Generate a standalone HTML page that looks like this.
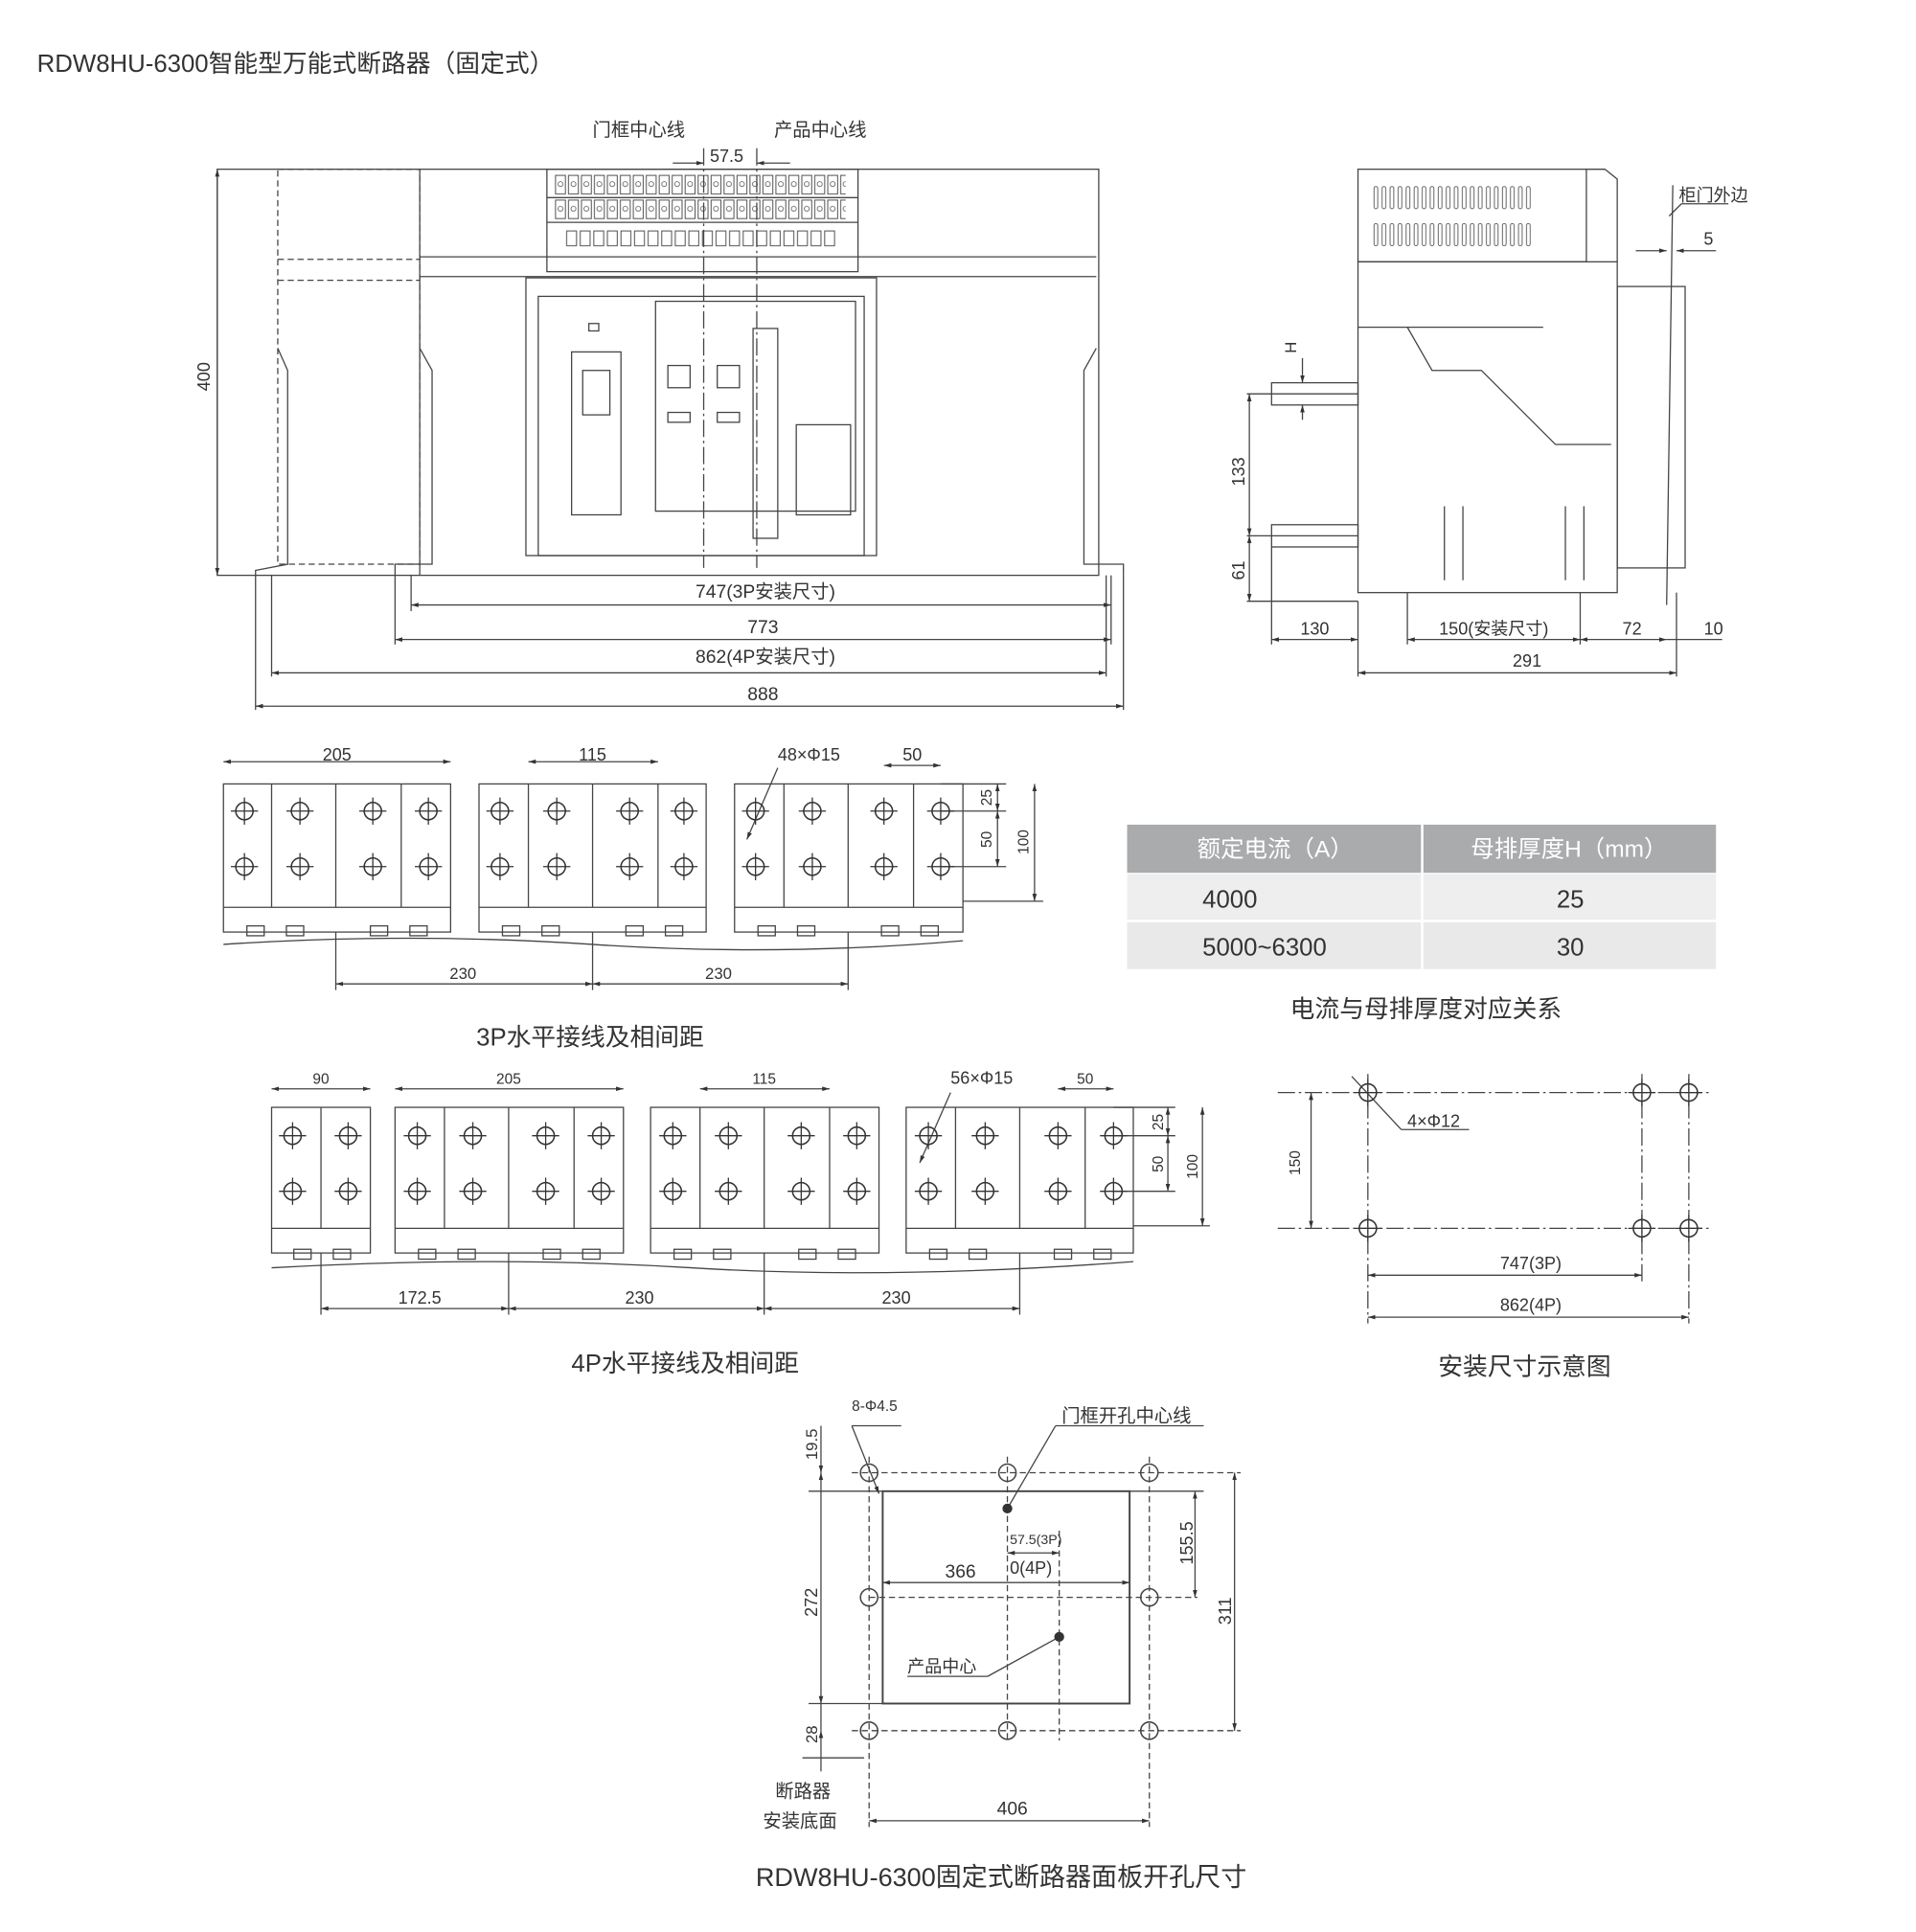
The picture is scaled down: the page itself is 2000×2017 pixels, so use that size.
<!DOCTYPE html>
<html><head><meta charset="utf-8">
<style>
html,body{margin:0;padding:0;background:#fff;}
svg{display:block;}
text{font-family:"Liberation Sans","Noto Sans CJK SC",sans-serif;fill:#333;}
</style></head><body>
<svg width="2000" height="2017" viewBox="0 0 1552 1565" xmlns="http://www.w3.org/2000/svg">
<defs>
<g id="h"><circle r="7" fill="none" stroke="#333" stroke-width="1.2"/><line x1="-11" y1="0" x2="11" y2="0" stroke="#333" stroke-width="1"/><line x1="0" y1="-11" x2="0" y2="11" stroke="#333" stroke-width="1"/></g>
<marker id="a" viewBox="0 0 10 10" refX="10" refY="5" markerWidth="6" markerHeight="6" orient="auto-start-reverse"><path d="M0,2 L10,5 L0,8z" fill="#333"/></marker>
<pattern id="term" x="449" y="140" width="10.5" height="20" patternUnits="userSpaceOnUse"><rect x="1" y="2" width="8" height="15" fill="none" stroke="#555" stroke-width="0.8"/><circle cx="5" cy="9" r="2" fill="none" stroke="#555" stroke-width="0.6"/></pattern>
<pattern id="sq" x="458" y="186" width="11" height="20" patternUnits="userSpaceOnUse"><rect x="1" y="1" width="8" height="12" fill="none" stroke="#555" stroke-width="0.8"/></pattern>
<pattern id="vent" x="1112" y="150" width="6.5" height="30" patternUnits="userSpaceOnUse"><rect x="1" y="1" width="3" height="18" rx="1.5" fill="none" stroke="#555" stroke-width="0.7"/></pattern>
</defs>
<g stroke="#444" stroke-width="1" fill="none">
<!-- front view -->
<rect x="176" y="137" width="714" height="329"/>
<line x1="340" y1="137" x2="340" y2="466"/>
<rect x="225" y="137" width="115" height="320" stroke-dasharray="5,3"/>
<line x1="225" y1="210" x2="340" y2="210" stroke-dasharray="5,3"/>
<line x1="225" y1="227" x2="340" y2="227" stroke-dasharray="5,3"/>
<rect x="443" y="137" width="252" height="83"/>
<rect x="449" y="140" width="236" height="40" fill="url(#term)" stroke="none"/>
<rect x="458" y="186" width="220" height="20" fill="url(#sq)" stroke="none"/>
<line x1="443" y1="160" x2="695" y2="160"/><line x1="443" y1="180" x2="695" y2="180"/>
<line x1="340" y1="208" x2="888" y2="208"/><line x1="340" y1="224" x2="888" y2="224"/>
<rect x="426" y="225" width="284" height="225"/>
<rect x="436" y="240" width="264" height="210"/>
<rect x="463" y="285" width="40" height="132"/><rect x="472" y="300" width="22" height="36"/>
<rect x="531" y="244" width="162" height="170"/>
<rect x="541" y="296" width="18" height="18"/><rect x="581" y="296" width="18" height="18"/>
<rect x="541" y="334" width="18" height="8"/><rect x="581" y="334" width="18" height="8"/>
<rect x="645" y="344" width="44" height="73"/>
<rect x="610" y="266" width="20" height="170"/>
<rect x="477" y="262" width="8" height="6"/>
<line x1="570" y1="120" x2="570" y2="460" stroke-dasharray="14,3,2,3"/>
<line x1="613" y1="120" x2="613" y2="460" stroke-dasharray="14,3,2,3"/>
<path d="M340 282 L350 300 L350 457 L320 457 L320 466"/>
<path d="M888 282 L878 300 L878 457 L910 457 L910 466"/>
<path d="M225 282 L233 300 L233 457 L207 462 L207 575"/>
<line x1="220" y1="466" x2="220" y2="548"/>
<line x1="333" y1="466" x2="333" y2="495"/><line x1="320" y1="466" x2="320" y2="522"/>
<line x1="900" y1="466" x2="900" y2="522"/><line x1="896" y1="466" x2="896" y2="548"/>
<line x1="910" y1="466" x2="910" y2="575"/>
<line x1="333" y1="490" x2="900" y2="490" marker-start="url(#a)" marker-end="url(#a)"/>
<line x1="320" y1="518" x2="900" y2="518" marker-start="url(#a)" marker-end="url(#a)"/>
<line x1="220" y1="545" x2="896" y2="545" marker-start="url(#a)" marker-end="url(#a)"/>
<line x1="207" y1="572" x2="910" y2="572" marker-start="url(#a)" marker-end="url(#a)"/>
<line x1="176" y1="137" x2="176" y2="466" marker-start="url(#a)" marker-end="url(#a)"/>
<line x1="545" y1="132" x2="570" y2="132" marker-end="url(#a)"/><line x1="640" y1="132" x2="613" y2="132" marker-end="url(#a)"/>
<!-- side view -->
<rect x="1100" y="137" width="185" height="75"/>
<rect x="1112" y="150" width="128" height="50" fill="url(#vent)" stroke="none"/>
<path d="M1285 137 L1300 137 L1310 145 L1310 212"/>
<rect x="1100" y="212" width="210" height="268"/>
<rect x="1310" y="232" width="55" height="228"/>
<line x1="1355" y1="150" x2="1350" y2="490"/>
<line x1="1100" y1="265" x2="1250" y2="265"/>
<path d="M1140 265 L1160 300 L1200 300 L1260 360 L1305 360"/>
<path d="M1170 410 L1170 470 M1185 410 L1185 470 M1268 410 L1268 470 M1283 410 L1283 470"/>
<rect x="1030" y="310" width="70" height="18"/><rect x="1030" y="425" width="70" height="18"/>
<line x1="1010" y1="319" x2="1100" y2="319"/><line x1="1010" y1="434" x2="1100" y2="434"/>
<line x1="1010" y1="487" x2="1100" y2="487"/>
<line x1="1012" y1="319" x2="1012" y2="434" marker-start="url(#a)" marker-end="url(#a)"/>
<line x1="1012" y1="434" x2="1012" y2="487" marker-start="url(#a)" marker-end="url(#a)"/>
<line x1="1030" y1="443" x2="1030" y2="522"/><line x1="1100" y1="487" x2="1100" y2="548"/>
<line x1="1140" y1="480" x2="1140" y2="522"/><line x1="1280" y1="480" x2="1280" y2="522"/>
<line x1="1358" y1="480" x2="1358" y2="548"/>
<line x1="1030" y1="518" x2="1100" y2="518" marker-start="url(#a)" marker-end="url(#a)"/>
<line x1="1140" y1="518" x2="1280" y2="518" marker-start="url(#a)" marker-end="url(#a)"/>
<line x1="1280" y1="518" x2="1350" y2="518" marker-start="url(#a)" marker-end="url(#a)"/>
<line x1="1350" y1="518" x2="1395" y2="518"/>
<line x1="1100" y1="545" x2="1358" y2="545" marker-start="url(#a)" marker-end="url(#a)"/>
<line x1="1055" y1="290" x2="1055" y2="310" marker-end="url(#a)"/><line x1="1055" y1="340" x2="1055" y2="328" marker-end="url(#a)"/>
<line x1="1325" y1="203" x2="1350" y2="203" marker-end="url(#a)"/><line x1="1390" y1="203" x2="1358" y2="203" marker-end="url(#a)"/>
<line x1="1352" y1="175" x2="1362" y2="165"/><line x1="1362" y1="165" x2="1400" y2="165"/>
</g>
<text x="30" y="58" font-size="20">RDW8HU-6300智能型万能式断路器（固定式）</text>
<text x="480" y="110" font-size="15">门框中心线</text><text x="627" y="110" font-size="15">产品中心线</text>
<text x="575" y="131" font-size="14">57.5</text>
<text x="170" y="305" font-size="14" transform="rotate(-90 170 305)" text-anchor="middle">400</text>
<text x="620" y="484" font-size="15" text-anchor="middle">747(3P安装尺寸)</text>
<text x="618" y="513" font-size="15" text-anchor="middle">773</text>
<text x="620" y="537" font-size="15" text-anchor="middle">862(4P安装尺寸)</text>
<text x="618" y="567" font-size="15" text-anchor="middle">888</text>
<text x="1360" y="163" font-size="14">柜门外边</text><text x="1380" y="198" font-size="14">5</text>
<text x="1050" y="286" font-size="13" transform="rotate(-90 1050 286)">H</text>
<text x="1008" y="382" font-size="14" transform="rotate(-90 1008 382)" text-anchor="middle">133</text>
<text x="1008" y="462" font-size="14" transform="rotate(-90 1008 462)" text-anchor="middle">61</text>
<text x="1065" y="514" font-size="14" text-anchor="middle">130</text>
<text x="1210" y="514" font-size="14" text-anchor="middle">150(安装尺寸)</text>
<text x="1322" y="514" font-size="14" text-anchor="middle">72</text>
<text x="1388" y="514" font-size="14" text-anchor="middle">10</text>
<text x="1237" y="540" font-size="14" text-anchor="middle">291</text>

<!-- 3P busbar -->
<g stroke="#444" fill="none" stroke-width="1">
<rect x="181" y="635" width="184" height="120"/><rect x="388" y="635" width="184" height="120"/><rect x="595" y="635" width="185" height="120"/>
<line x1="181" y1="735" x2="365" y2="735"/><line x1="388" y1="735" x2="572" y2="735"/><line x1="595" y1="735" x2="780" y2="735"/>
<path d="M181 765 Q330 755 480 765 T780 762"/>
<line x1="220" y1="635" x2="220" y2="735"/><line x1="272" y1="635" x2="272" y2="735"/><line x1="325" y1="635" x2="325" y2="735"/>
<line x1="428" y1="635" x2="428" y2="735"/><line x1="480" y1="635" x2="480" y2="735"/><line x1="533" y1="635" x2="533" y2="735"/>
<line x1="635" y1="635" x2="635" y2="735"/><line x1="687" y1="635" x2="687" y2="735"/><line x1="740" y1="635" x2="740" y2="735"/>
<line x1="181" y1="617" x2="365" y2="617" marker-start="url(#a)" marker-end="url(#a)"/>
<line x1="428" y1="617" x2="533" y2="617" marker-start="url(#a)" marker-end="url(#a)"/>
<line x1="716" y1="620" x2="762" y2="620" marker-start="url(#a)" marker-end="url(#a)"/>
<line x1="762" y1="635" x2="815" y2="635"/><line x1="762" y1="657" x2="815" y2="657"/><line x1="762" y1="702" x2="815" y2="702"/><line x1="780" y1="730" x2="845" y2="730"/>
<line x1="808" y1="635" x2="808" y2="657" marker-start="url(#a)" marker-end="url(#a)"/>
<line x1="808" y1="657" x2="808" y2="702" marker-start="url(#a)" marker-end="url(#a)"/>
<line x1="838" y1="635" x2="838" y2="730" marker-start="url(#a)" marker-end="url(#a)"/>
<line x1="272" y1="797" x2="480" y2="797" marker-start="url(#a)" marker-end="url(#a)"/>
<line x1="480" y1="797" x2="687" y2="797" marker-start="url(#a)" marker-end="url(#a)"/>
<line x1="272" y1="755" x2="272" y2="802"/><line x1="480" y1="755" x2="480" y2="802"/><line x1="687" y1="755" x2="687" y2="802"/>
<line x1="630" y1="622" x2="605" y2="680" marker-end="url(#a)"/>
</g>
<g fill="none" stroke="#444">
<rect x="200" y="750" width="14" height="8"/><rect x="232" y="750" width="14" height="8"/><rect x="300" y="750" width="14" height="8"/><rect x="332" y="750" width="14" height="8"/>
<rect x="407" y="750" width="14" height="8"/><rect x="439" y="750" width="14" height="8"/><rect x="507" y="750" width="14" height="8"/><rect x="539" y="750" width="14" height="8"/>
<rect x="614" y="750" width="14" height="8"/><rect x="646" y="750" width="14" height="8"/><rect x="714" y="750" width="14" height="8"/><rect x="746" y="750" width="14" height="8"/>
</g>
<g>
<use href="#h" x="198" y="657"/><use href="#h" x="243" y="657"/><use href="#h" x="302" y="657"/><use href="#h" x="347" y="657"/>
<use href="#h" x="198" y="702"/><use href="#h" x="243" y="702"/><use href="#h" x="302" y="702"/><use href="#h" x="347" y="702"/>
<use href="#h" x="405" y="657"/><use href="#h" x="451" y="657"/><use href="#h" x="510" y="657"/><use href="#h" x="554" y="657"/>
<use href="#h" x="405" y="702"/><use href="#h" x="451" y="702"/><use href="#h" x="510" y="702"/><use href="#h" x="554" y="702"/>
<use href="#h" x="612" y="657"/><use href="#h" x="658" y="657"/><use href="#h" x="716" y="657"/><use href="#h" x="762" y="657"/>
<use href="#h" x="612" y="702"/><use href="#h" x="658" y="702"/><use href="#h" x="716" y="702"/><use href="#h" x="762" y="702"/>
</g>
<text x="273" y="616" font-size="14" text-anchor="middle">205</text>
<text x="480" y="616" font-size="14" text-anchor="middle">115</text>
<text x="630" y="616" font-size="14">48×Φ15</text>
<text x="739" y="616" font-size="14" text-anchor="middle">50</text>
<text x="803" y="646" font-size="12" transform="rotate(-90 803 646)" text-anchor="middle">25</text>
<text x="803" y="680" font-size="12" transform="rotate(-90 803 680)" text-anchor="middle">50</text>
<text x="833" y="682" font-size="12" transform="rotate(-90 833 682)" text-anchor="middle">100</text>
<text x="375" y="793" font-size="13" text-anchor="middle">230</text>
<text x="582" y="793" font-size="13" text-anchor="middle">230</text>
<text x="478" y="847" font-size="20" text-anchor="middle">3P水平接线及相间距</text>

<!-- table -->
<rect x="913" y="668" width="477" height="39" fill="#a9abad"/>
<rect x="913" y="708" width="477" height="37" fill="#eeeeef"/>
<rect x="913" y="747" width="477" height="38" fill="#e9e9ea"/>
<line x1="1152" y1="668" x2="1152" y2="785" stroke="#fff" stroke-width="2"/>
<text x="1033" y="694" font-size="19" style="fill:#fff" text-anchor="middle">额定电流（A）</text>
<text x="1271" y="694" font-size="19" style="fill:#fff" text-anchor="middle">母排厚度H（mm）</text>
<text x="974" y="735" font-size="20">4000</text><text x="1272" y="735" font-size="20" text-anchor="middle">25</text>
<text x="974" y="774" font-size="20">5000~6300</text><text x="1272" y="774" font-size="20" text-anchor="middle">30</text>
<text x="1155" y="824" font-size="20" text-anchor="middle">电流与母排厚度对应关系</text>

<!-- 4P busbar -->
<g stroke="#444" fill="none" stroke-width="1">
<rect x="220" y="897" width="80" height="118"/><rect x="320" y="897" width="185" height="118"/><rect x="527" y="897" width="185" height="118"/><rect x="734" y="897" width="184" height="118"/>
<line x1="220" y1="995" x2="300" y2="995"/><line x1="320" y1="995" x2="505" y2="995"/><line x1="527" y1="995" x2="712" y2="995"/><line x1="734" y1="995" x2="918" y2="995"/>
<line x1="260" y1="897" x2="260" y2="995"/>
<line x1="360" y1="897" x2="360" y2="995"/><line x1="412" y1="897" x2="412" y2="995"/><line x1="465" y1="897" x2="465" y2="995"/>
<line x1="567" y1="897" x2="567" y2="995"/><line x1="619" y1="897" x2="619" y2="995"/><line x1="672" y1="897" x2="672" y2="995"/>
<line x1="774" y1="897" x2="774" y2="995"/><line x1="826" y1="897" x2="826" y2="995"/><line x1="879" y1="897" x2="879" y2="995"/>
<path d="M220 1027 Q400 1017 560 1027 T918 1022"/>
<line x1="220" y1="882" x2="300" y2="882" marker-start="url(#a)" marker-end="url(#a)"/>
<line x1="320" y1="882" x2="505" y2="882" marker-start="url(#a)" marker-end="url(#a)"/>
<line x1="567" y1="882" x2="672" y2="882" marker-start="url(#a)" marker-end="url(#a)"/>
<line x1="857" y1="882" x2="902" y2="882" marker-start="url(#a)" marker-end="url(#a)"/>
<line x1="902" y1="897" x2="952" y2="897"/><line x1="902" y1="920" x2="952" y2="920"/><line x1="902" y1="965" x2="952" y2="965"/><line x1="918" y1="993" x2="980" y2="993"/>
<line x1="946" y1="897" x2="946" y2="920" marker-start="url(#a)" marker-end="url(#a)"/>
<line x1="946" y1="920" x2="946" y2="965" marker-start="url(#a)" marker-end="url(#a)"/>
<line x1="974" y1="897" x2="974" y2="993" marker-start="url(#a)" marker-end="url(#a)"/>
<line x1="260" y1="1060" x2="412" y2="1060" marker-start="url(#a)" marker-end="url(#a)"/>
<line x1="412" y1="1060" x2="619" y2="1060" marker-start="url(#a)" marker-end="url(#a)"/>
<line x1="619" y1="1060" x2="826" y2="1060" marker-start="url(#a)" marker-end="url(#a)"/>
<line x1="260" y1="1015" x2="260" y2="1065"/><line x1="412" y1="1015" x2="412" y2="1065"/><line x1="619" y1="1015" x2="619" y2="1065"/><line x1="826" y1="1015" x2="826" y2="1065"/>
<line x1="770" y1="885" x2="745" y2="942" marker-end="url(#a)"/>
<rect x="238" y="1012" width="14" height="8"/><rect x="270" y="1012" width="14" height="8"/>
<rect x="339" y="1012" width="14" height="8"/><rect x="371" y="1012" width="14" height="8"/><rect x="440" y="1012" width="14" height="8"/><rect x="472" y="1012" width="14" height="8"/>
<rect x="546" y="1012" width="14" height="8"/><rect x="578" y="1012" width="14" height="8"/><rect x="647" y="1012" width="14" height="8"/><rect x="679" y="1012" width="14" height="8"/>
<rect x="753" y="1012" width="14" height="8"/><rect x="785" y="1012" width="14" height="8"/><rect x="854" y="1012" width="14" height="8"/><rect x="886" y="1012" width="14" height="8"/>
</g>
<g>
<use href="#h" x="237" y="920"/><use href="#h" x="282" y="920"/><use href="#h" x="237" y="965"/><use href="#h" x="282" y="965"/>
<use href="#h" x="338" y="920"/><use href="#h" x="383" y="920"/><use href="#h" x="442" y="920"/><use href="#h" x="487" y="920"/>
<use href="#h" x="338" y="965"/><use href="#h" x="383" y="965"/><use href="#h" x="442" y="965"/><use href="#h" x="487" y="965"/>
<use href="#h" x="545" y="920"/><use href="#h" x="590" y="920"/><use href="#h" x="649" y="920"/><use href="#h" x="694" y="920"/>
<use href="#h" x="545" y="965"/><use href="#h" x="590" y="965"/><use href="#h" x="649" y="965"/><use href="#h" x="694" y="965"/>
<use href="#h" x="752" y="920"/><use href="#h" x="798" y="920"/><use href="#h" x="857" y="920"/><use href="#h" x="902" y="920"/>
<use href="#h" x="752" y="965"/><use href="#h" x="798" y="965"/><use href="#h" x="857" y="965"/><use href="#h" x="902" y="965"/>
</g>
<text x="260" y="878" font-size="12" text-anchor="middle">90</text>
<text x="412" y="878" font-size="12" text-anchor="middle">205</text>
<text x="619" y="878" font-size="12" text-anchor="middle">115</text>
<text x="770" y="878" font-size="14">56×Φ15</text>
<text x="879" y="878" font-size="12" text-anchor="middle">50</text>
<text x="942" y="909" font-size="12" transform="rotate(-90 942 909)" text-anchor="middle">25</text>
<text x="942" y="943" font-size="12" transform="rotate(-90 942 943)" text-anchor="middle">50</text>
<text x="970" y="945" font-size="12" transform="rotate(-90 970 945)" text-anchor="middle">100</text>
<text x="340" y="1056" font-size="14" text-anchor="middle">172.5</text>
<text x="518" y="1056" font-size="14" text-anchor="middle">230</text>
<text x="726" y="1056" font-size="14" text-anchor="middle">230</text>
<text x="555" y="1111" font-size="20" text-anchor="middle">4P水平接线及相间距</text>

<!-- install diagram -->
<g stroke="#444" fill="none" stroke-width="1">
<line x1="1035" y1="885" x2="1385" y2="885" stroke-dasharray="14,3,2,3"/>
<line x1="1035" y1="995" x2="1385" y2="995" stroke-dasharray="14,3,2,3"/>
<line x1="1108" y1="870" x2="1108" y2="1072" stroke-dasharray="14,3,2,3"/>
<line x1="1330" y1="870" x2="1330" y2="1038" stroke-dasharray="14,3,2,3"/>
<line x1="1368" y1="870" x2="1368" y2="1072" stroke-dasharray="14,3,2,3"/>
<line x1="1062" y1="885" x2="1062" y2="995" marker-start="url(#a)" marker-end="url(#a)"/>
<line x1="1108" y1="1033" x2="1330" y2="1033" marker-start="url(#a)" marker-end="url(#a)"/>
<line x1="1108" y1="1067" x2="1368" y2="1067" marker-start="url(#a)" marker-end="url(#a)"/>
<line x1="1095" y1="872" x2="1135" y2="915"/><line x1="1135" y1="915" x2="1190" y2="915"/>
</g>
<use href="#h" x="1108" y="885"/><use href="#h" x="1330" y="885"/><use href="#h" x="1368" y="885"/>
<use href="#h" x="1108" y="995"/><use href="#h" x="1330" y="995"/><use href="#h" x="1368" y="995"/>
<text x="1140" y="913" font-size="14">4×Φ12</text>
<text x="1053" y="942" font-size="12" transform="rotate(-90 1053 942)" text-anchor="middle">150</text>
<text x="1240" y="1028" font-size="14" text-anchor="middle">747(3P)</text>
<text x="1240" y="1062" font-size="14" text-anchor="middle">862(4P)</text>
<text x="1235" y="1114" font-size="20" text-anchor="middle">安装尺寸示意图</text>

<!-- panel cutout -->
<g stroke="#444" fill="none" stroke-width="1">
<rect x="715" y="1208" width="200" height="172" stroke-width="1.5"/>
<line x1="690" y1="1193" x2="1005" y2="1193" stroke-dasharray="5,3"/>
<line x1="690" y1="1402" x2="1005" y2="1402" stroke-dasharray="5,3"/>
<line x1="704" y1="1180" x2="704" y2="1480" stroke-dasharray="5,3"/>
<line x1="931" y1="1180" x2="931" y2="1480" stroke-dasharray="5,3"/>
<line x1="816" y1="1180" x2="816" y2="1410" stroke-dasharray="5,3"/>
<line x1="858" y1="1240" x2="858" y2="1410" stroke-dasharray="5,3"/>
<line x1="704" y1="1294" x2="970" y2="1294" stroke-dasharray="5,3"/>
<line x1="665" y1="1155" x2="665" y2="1193" marker-end="url(#a)"/>
<line x1="665" y1="1193" x2="665" y2="1380" marker-start="url(#a)" marker-end="url(#a)"/>
<line x1="665" y1="1380" x2="665" y2="1402" />
<line x1="665" y1="1402" x2="665" y2="1435" marker-start="url(#a)"/>
<line x1="655" y1="1208" x2="715" y2="1208"/><line x1="655" y1="1380" x2="715" y2="1380"/>
<line x1="650" y1="1424" x2="700" y2="1424"/>
<line x1="968" y1="1208" x2="968" y2="1294" marker-start="url(#a)" marker-end="url(#a)"/>
<line x1="915" y1="1208" x2="975" y2="1208"/>
<line x1="1000" y1="1193" x2="1000" y2="1402" marker-start="url(#a)" marker-end="url(#a)"/>
<line x1="715" y1="1282" x2="915" y2="1282" marker-start="url(#a)" marker-end="url(#a)"/>
<line x1="816" y1="1258" x2="858" y2="1258" marker-start="url(#a)" marker-end="url(#a)"/>
<line x1="704" y1="1475" x2="931" y2="1475" marker-start="url(#a)" marker-end="url(#a)"/>
<line x1="690" y1="1155" x2="730" y2="1155"/><line x1="690" y1="1155" x2="712" y2="1210" marker-end="url(#a)"/>
<line x1="855" y1="1155" x2="975" y2="1155"/><line x1="855" y1="1155" x2="816" y2="1222"/>
<line x1="735" y1="1358" x2="800" y2="1358"/><line x1="800" y1="1358" x2="858" y2="1326"/>
</g>
<g stroke="#444" stroke-width="1.2" fill="none">
<circle cx="704" cy="1193" r="7"/><circle cx="816" cy="1193" r="7"/><circle cx="931" cy="1193" r="7"/>
<circle cx="704" cy="1294" r="7"/><circle cx="931" cy="1294" r="7"/>
<circle cx="704" cy="1402" r="7"/><circle cx="816" cy="1402" r="7"/><circle cx="931" cy="1402" r="7"/>
</g>
<circle cx="816" cy="1222" r="4" fill="#333"/><circle cx="858" cy="1326" r="4" fill="#333"/>
<text x="690" y="1143" font-size="12">8-Φ4.5</text>
<text x="860" y="1152" font-size="15">门框开孔中心线</text>
<text x="662" y="1170" font-size="13" transform="rotate(-90 662 1170)" text-anchor="middle">19.5</text>
<text x="662" y="1298" font-size="14" transform="rotate(-90 662 1298)" text-anchor="middle">272</text>
<text x="662" y="1405" font-size="13" transform="rotate(-90 662 1405)" text-anchor="middle">28</text>
<text x="966" y="1250" font-size="14" transform="rotate(-90 966 1250)" text-anchor="middle">155.5</text>
<text x="997" y="1305" font-size="14" transform="rotate(-90 997 1305)" text-anchor="middle">311</text>
<text x="778" y="1278" font-size="15" text-anchor="middle">366</text>
<text x="818" y="1251" font-size="11">57.5(3P)</text>
<text x="818" y="1275" font-size="14">0(4P)</text>
<text x="735" y="1355" font-size="14">产品中心</text>
<text x="628" y="1456" font-size="15">断路器</text>
<text x="618" y="1480" font-size="15">安装底面</text>
<text x="820" y="1470" font-size="15" text-anchor="middle">406</text>
<text x="811" y="1528" font-size="21" text-anchor="middle">RDW8HU-6300固定式断路器面板开孔尺寸</text>
</svg>
</body></html>
